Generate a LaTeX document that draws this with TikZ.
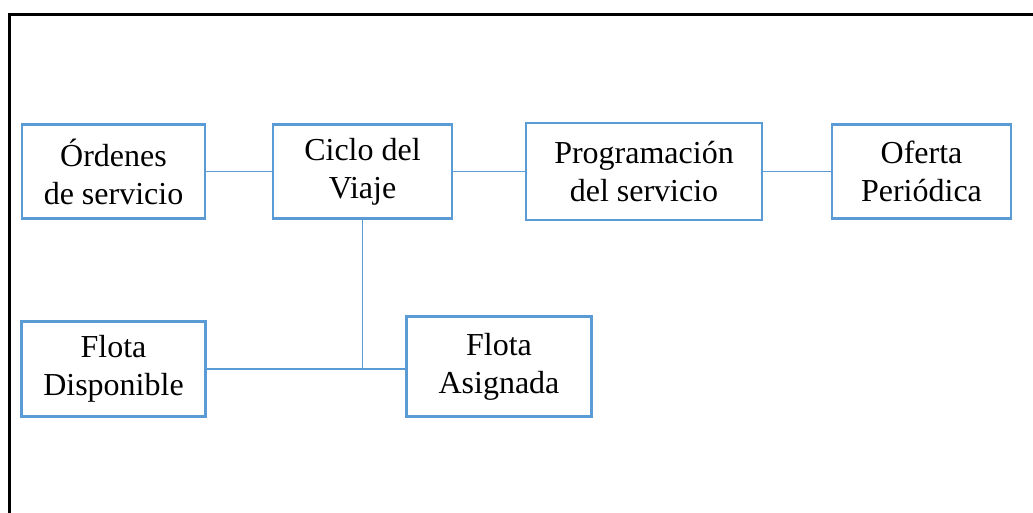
\documentclass[tikz,border=0pt]{standalone}
\usepackage{fontspec}
\setmainfont{Liberation Serif}
\usetikzlibrary{positioning}
\definecolor{boxblue}{HTML}{5B9BD5}

\tikzset{
    caja/.style={draw=boxblue, line width=2.6pt, align=center, inner sep=0pt,
        minimum height=94pt, font=\fontsize{32}{38}\selectfont},
    enlace/.style={draw=boxblue, line width=1.5pt}
}

\begin{document}
\begin{tikzpicture}[x=1pt, y=1pt]
            \useasboundingbox (0,0) rectangle (1033,-512);
            \draw[line width=3pt] (1060,-14) -- (9,-14) -- (9,-540);
            % fila superior
            \node[caja, minimum width=183pt] (ordenes) at (113.5,-171.5) {Órdenes\\de servicio};
            \node[caja, minimum width=179pt, right=65.4pt of ordenes] (ciclo) {Ciclo del\\Viaje};
            \node[caja, minimum width=236pt, minimum height=97pt, right=71.4pt of ciclo] (programa) {Programación\\del servicio};
            \node[caja, minimum width=179pt, right=67.4pt of programa] (oferta) {Oferta\\Periódica};
            % flota
            \node[caja, minimum width=184pt, minimum height=95pt, below=100.4pt of ordenes] (disponible) {Flota\\Disponible};
            \node[caja, minimum width=185pt, minimum height=100pt, right=198.4pt of disponible, yshift=2.5pt] (asignada) {Flota\\Asignada};
            \draw[enlace] (ordenes) -- (ciclo);
            \draw[enlace] (ciclo) -- (programa);
            \draw[enlace] (programa) -- (oferta);
            \draw[enlace] (disponible.east) -- (disponible.east -| asignada.west);
            \draw[enlace] (ciclo.south) -- (ciclo.south |- disponible.east);
        \end{tikzpicture}
\end{document}
